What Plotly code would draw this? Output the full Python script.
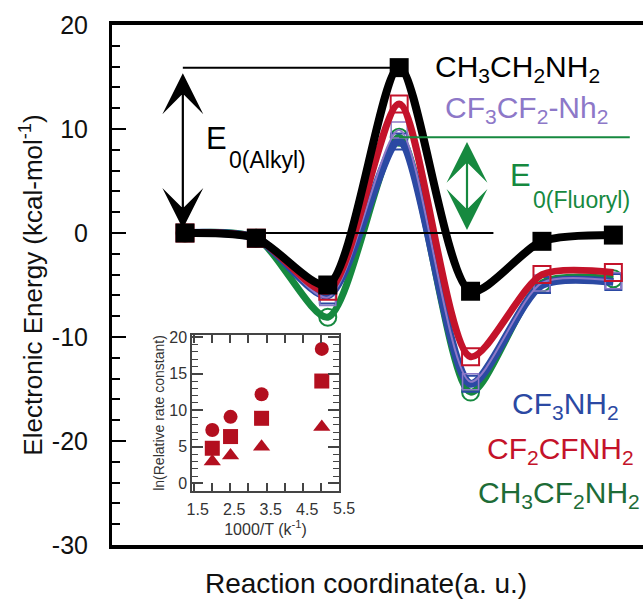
import plotly.graph_objects as go

# ---- energy profile data (kcal/mol) along the reaction coordinate ----
steps = [0, 1, 2, 3, 4, 5, 6]
e_ch3ch2nh2 = [0.0, -0.5, -5.0, 15.9, -5.6, -0.8, -0.2]
e_cf2cfnh2 = [0.0, -0.5, -5.6, 12.4, -11.9, -4.0, -3.8]
e_cf3cf2nh2 = [0.0, -0.5, -6.2, 9.9, -14.3, -4.8, -4.6]
e_cf3nh2 = [0.0, -0.5, -6.0, 8.8, -14.5, -5.0, -4.7]
e_ch3cf2nh2 = [0.0, -0.5, -8.1, 9.2, -15.3, -4.8, -4.4]

# ---- inset: ln(relative rate constant) vs 1000/T ----
inv_t = [1.9, 2.4, 3.25, 4.9]
ln_k_circle = [7.3, 9.1, 12.2, 18.4]
ln_k_square = [4.8, 6.4, 8.9, 14.0]
ln_k_triangle = [3.0, 3.8, 5.0, 7.7]

y_major = [-30, -20, -10, 0, 10, 20]
y_major_text = ["-30", "-20", "-10", "0", "10", "20"]
inset_xticks = [1.5, 2.5, 3.5, 4.5]
inset_edge_tick = 5.5
inset_yticks = [0, 5, 10, 15, 20]

FONT = "Liberation Sans, Arial, sans-serif"
BLACK = "#000000"
RED = "#c4132a"
BLUE = "#2b49a3"
GREEN = "#16893f"
PURPLE = "#8d78c8"
INSET_RED = "#b30f1f"
INSET_INK = "#333333"

W, H = 643, 602
ML, MR, MT, MB = 112, 0, 25, 57

# inset geometry (pixels) and its 1000/T scale
INSET_L, INSET_R, INSET_T, INSET_B = 192, 339, 335, 491
INSET_X0 = 1.344
INSET_PX_PER_UNIT = 36.5


def px(x):
    return (x - ML) / (W - ML - MR)


def py(y):
    return (H - MB - y) / (H - MT - MB)


def inset_px(v):
    return INSET_L + (v - INSET_X0) * INSET_PX_PER_UNIT


fig = go.Figure()

spline = dict(shape="spline", smoothing=0.75)

fig.add_trace(go.Scatter(
    x=steps, y=e_ch3cf2nh2, mode="lines+markers",
    line=dict(color=GREEN, width=7, **spline),
    marker=dict(symbol="circle-open", size=17, color=GREEN, line=dict(width=2)),
    showlegend=False))
fig.add_trace(go.Scatter(
    x=steps, y=e_cf3nh2, mode="lines+markers",
    line=dict(color=BLUE, width=8, **spline),
    marker=dict(symbol="square-open", size=16, color=BLUE, line=dict(width=2)),
    showlegend=False))
fig.add_trace(go.Scatter(
    x=steps, y=e_cf3cf2nh2, mode="lines+markers",
    line=dict(color=PURPLE, width=2, **spline),
    marker=dict(symbol="square-open", size=16, color=PURPLE, line=dict(width=1.5)),
    showlegend=False))
fig.add_trace(go.Scatter(
    x=steps, y=e_cf2cfnh2, mode="lines+markers",
    line=dict(color=RED, width=7, **spline),
    marker=dict(symbol="square-open", size=17, color=RED, line=dict(width=2)),
    showlegend=False))
fig.add_trace(go.Scatter(
    x=steps, y=e_ch3ch2nh2, mode="lines+markers",
    line=dict(color=BLACK, width=8, **spline),
    marker=dict(symbol="square", size=19, color=BLACK),
    showlegend=False))

# inset scatter
fig.add_trace(go.Scatter(
    x=inv_t, y=ln_k_circle, mode="markers", xaxis="x2", yaxis="y3",
    marker=dict(symbol="circle", size=14, color=INSET_RED), showlegend=False))
fig.add_trace(go.Scatter(
    x=inv_t, y=ln_k_square, mode="markers", xaxis="x2", yaxis="y3",
    marker=dict(symbol="square", size=15, color=INSET_RED), showlegend=False))
fig.add_trace(go.Scatter(
    x=inv_t, y=ln_k_triangle, mode="markers", xaxis="x2", yaxis="y3",
    marker=dict(symbol="triangle-up", size=15, color=INSET_RED), showlegend=False))

# ---- barrier reference lines ----
peak_alkyl = max(e_ch3ch2nh2)
peak_fluoryl = max(e_ch3cf2nh2)
shapes = [
    dict(type="line", xref="x", yref="y", x0=-0.03, x1=steps[3],
         y0=peak_alkyl, y1=peak_alkyl, line=dict(color=BLACK, width=2)),
    dict(type="line", xref="x", yref="y", x0=steps[0], x1=4.32,
         y0=0, y1=0, line=dict(color=BLACK, width=2)),
    dict(type="line", xref="x", yref="y", x0=steps[3], x1=6.23,
         y0=peak_fluoryl, y1=peak_fluoryl, line=dict(color=GREEN, width=2)),
]

annotations = [
    # double-headed barrier arrows
    dict(x=-0.03, y=0.4, ax=-0.03, ay=peak_alkyl - 0.4, xref="x", yref="y",
         axref="x", ayref="y", text="", showarrow=True, arrowhead=3,
         arrowside="end+start", arrowsize=3.1, arrowwidth=2.2, arrowcolor=BLACK),
    dict(x=3.95, y=0.3, ax=3.95, ay=peak_fluoryl - 0.3, xref="x", yref="y",
         axref="x", ayref="y", text="", showarrow=True, arrowhead=3,
         arrowside="end+start", arrowsize=3.1, arrowwidth=2.2, arrowcolor=GREEN),
]


def label(text, x, y, color, size, anchor="left"):
    return dict(text=text, x=px(x), y=py(y), xref="paper", yref="paper",
                xanchor=anchor, yanchor="middle", showarrow=False,
                font=dict(family=FONT, size=size, color=color))


annotations += [
    label("E", 204, 138, BLACK, 31),
    label("0(Alkyl)", 227, 160, BLACK, 23),
    label("E", 508, 175, GREEN, 31),
    label("0(Fluoryl)", 531, 200, GREEN, 23),
    label("CH<sub>3</sub>CH<sub>2</sub>NH<sub>2</sub>", 433, 68, BLACK, 30),
    label("CF<sub>3</sub>CF<sub>2</sub>-Nh<sub>2</sub>", 443, 110, PURPLE, 30),
    label("CF<sub>3</sub>NH<sub>2</sub>", 510, 405, BLUE, 30),
    label("CF<sub>2</sub>CFNH<sub>2</sub>", 485, 450, RED, 30),
    label("CH<sub>3</sub>CF<sub>2</sub>NH<sub>2</sub>", 476, 494, "#1d6c37", 30),
    label("Reaction coordinate(a. u.)", 366, 583, "#111111", 28, anchor="center"),
    # the last inset tick value sits just past the inset frame
    label(str(inset_edge_tick), inset_px(inset_edge_tick), 508, INSET_INK, 16,
          anchor="center"),
]

fig.update_layout(
    width=W, height=H,
    margin=dict(l=ML, r=MR, t=MT, b=MB),
    paper_bgcolor="white", plot_bgcolor="white",
    font=dict(family=FONT, color=BLACK),
    shapes=shapes, annotations=annotations,
    xaxis=dict(
        range=[-1.022, 6.415], showgrid=False, zeroline=False,
        showticklabels=False, ticks="", showline=True, mirror=True,
        linecolor=BLACK, linewidth=3.5,
    ),
    yaxis=dict(
        range=[-30, 20], tickvals=y_major, ticktext=y_major_text,
        showgrid=False, zeroline=False,
        showline=True, linecolor=BLACK, linewidth=3,
        ticks="inside", ticklen=14, tickwidth=1.5, tickcolor=BLACK,
        minor=dict(dtick=2, ticks="inside", ticklen=8, tickwidth=1.5, tickcolor=BLACK),
        ticklabelstandoff=16,
        tickfont=dict(size=25, family=FONT, color="#111111"),
        title=dict(text="Electronic Energy (kcal-mol<sup>-1</sup>)", standoff=2,
                   font=dict(size=26, family=FONT, color="#111111")),
    ),
    yaxis2=dict(
        overlaying="y", side="right", range=[-30, 20], tickvals=y_major,
        showticklabels=False, showgrid=False, zeroline=False, showline=False,
        ticks="inside", ticklen=20, tickwidth=1.5, tickcolor="#333333",
        minor=dict(dtick=2, ticks="inside", ticklen=7, tickwidth=1.5, tickcolor="#333333"),
    ),
    xaxis2=dict(
        domain=[px(INSET_L), px(INSET_R)], anchor="y3",
        range=[INSET_X0, INSET_X0 + (INSET_R - INSET_L) / INSET_PX_PER_UNIT],
        tickvals=inset_xticks, ticktext=[str(v) for v in inset_xticks],
        ticks="", showgrid=False, zeroline=False,
        showline=True, mirror="allticks", linecolor="#444444", linewidth=1.5,
        minor=dict(tick0=1.89, dtick=0.5, ticks="inside", ticklen=8,
                   tickwidth=1.5, tickcolor="#444444"),
        ticklabelstandoff=3,
        tickfont=dict(size=16, family=FONT, color=INSET_INK),
        title=dict(text="1000/T (k<sup>-1</sup>)", standoff=1,
                   font=dict(size=16, family=FONT, color=INSET_INK)),
    ),
    yaxis3=dict(
        domain=[py(INSET_B), py(INSET_T)], anchor="x2", range=[-1.05, 20.3],
        tickvals=inset_yticks, showgrid=False, zeroline=False,
        showline=True, mirror="allticks", linecolor="#444444", linewidth=1.5,
        ticks="inside", ticklen=11, tickwidth=1.5, tickcolor="#444444",
        minor=dict(dtick=1, ticks="inside", ticklen=6, tickwidth=1.2, tickcolor="#444444"),
        tickfont=dict(size=16, family=FONT, color=INSET_INK),
        title=dict(text="ln(Relative rate constant)", standoff=1,
                   font=dict(size=14, family=FONT, color=INSET_INK)),
    ),
)

fig.write_html("out.html")
